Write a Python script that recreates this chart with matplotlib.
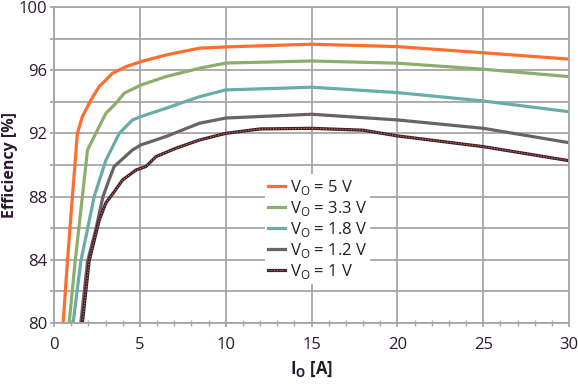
import matplotlib.pyplot as plt
from matplotlib.ticker import MultipleLocator

plt.rcParams['font.family'] = ['Open Sans', 'DejaVu Sans']

i_5v = [0.53, 0.78, 1.07, 1.36, 1.65, 2.14, 2.63, 3.4, 4.19, 5.06, 6.52, 8.47, 10, 15, 20, 25, 30]
eff_5v = [80, 83.9, 88, 92.0, 93.06, 94.1, 94.96, 95.8, 96.22, 96.54, 96.96, 97.39, 97.47, 97.64, 97.49, 97.1, 96.7]

i_33v = [0.88, 1.23, 1.65, 1.95, 2.43, 3.02, 3.6, 4.09, 5.06, 6.52, 8.47, 10, 15, 20, 25, 30]
eff_33v = [80, 83.9, 88, 90.95, 92.0, 93.27, 93.9, 94.54, 95.06, 95.59, 96.12, 96.45, 96.58, 96.44, 96.06, 95.59]

i_18v = [1.11, 1.56, 2.34, 3.02, 3.8, 4.57, 5.06, 6.52, 8.47, 10, 13, 15, 20, 25, 30]
eff_18v = [80, 83.9, 88, 90.3, 92.0, 92.85, 93.06, 93.59, 94.32, 94.75, 94.85, 94.92, 94.58, 94.05, 93.37]

i_12v = [1.56, 1.95, 2.43, 2.85, 3.2, 3.5, 4.57, 5.06, 6.52, 8.47, 10, 15, 20, 25, 30]
eff_12v = [80, 83.9, 85.9, 88, 89.05, 89.9, 90.95, 91.27, 91.8, 92.64, 92.97, 93.21, 92.85, 92.32, 91.41]

i_1v = [1.65, 2.04, 2.63, 3.02, 3.5, 3.99, 4.77, 5.35, 5.94, 7.1, 8.47, 10, 12, 15, 18, 20, 25, 30]
eff_1v = [80, 83.9, 86.5, 87.6, 88.3, 89.05, 89.68, 89.9, 90.53, 91.06, 91.58, 92.0, 92.28, 92.32, 92.2, 91.84, 91.16, 90.27]

labels = ['V$_\\mathregular{O}$ = 5 V', 'V$_\\mathregular{O}$ = 3.3 V', 'V$_\\mathregular{O}$ = 1.8 V',
          'V$_\\mathregular{O}$ = 1.2 V', 'V$_\\mathregular{O}$ = 1 V']

txt = '#2b1a2e'
grid_c = '#a6a6a6'
lw = 2.3
fs = 12

fig = plt.figure(figsize=(5.78, 3.85), dpi=100)
ax = fig.add_axes([0.0935, 0.161, 0.891, 0.821])

ax.plot(i_5v, eff_5v, color='#ff6e2e', lw=lw, label=labels[0])
ax.plot(i_33v, eff_33v, color='#8cae6c', lw=lw, label=labels[1])
ax.plot(i_18v, eff_18v, color='#6aaca7', lw=lw, label=labels[2])
ax.plot(i_12v, eff_12v, color='#6b6169', lw=lw, label=labels[3])
l1, = ax.plot(i_1v, eff_1v, color='#3a2332', lw=lw)
l2, = ax.plot(i_1v, eff_1v, color='#ff6e2e', lw=0.8, ls=(0, (1, 1.5)))

h, l = ax.get_legend_handles_labels()
h.append((l1, l2))
l.append(labels[4])
leg = ax.legend(h, l, loc='upper left', bbox_to_anchor=(0.393, 0.497), frameon=True,
                framealpha=1, edgecolor='none', fancybox=False, fontsize=fs,
                handlelength=1.0, handletextpad=0.3, labelspacing=0.12, borderpad=0.2,
                labelcolor=txt)

ax.set_xlim(0, 30)
ax.set_ylim(80, 100)
ax.xaxis.set_major_locator(MultipleLocator(5))
ax.xaxis.set_minor_locator(MultipleLocator(1))
ax.yaxis.set_major_locator(MultipleLocator(4))
ax.yaxis.set_minor_locator(MultipleLocator(2))
ax.grid(True, which='major', color=grid_c, lw=1.3)
ax.grid(True, which='minor', axis='y', color=grid_c, lw=1.3)
ax.set_axisbelow(True)
ax.tick_params(which='both', colors=grid_c, labelcolor=txt, labelsize=fs)
ax.tick_params(axis='x', which='major', direction='out', length=3, width=1.3, pad=7)
ax.tick_params(axis='x', which='minor', direction='inout', length=4, width=1)
ax.tick_params(axis='y', which='both', direction='out', length=3, width=1.3, pad=2)
for s in ax.spines.values():
    s.set_color(grid_c)
    s.set_linewidth(1.3)

ax.set_xlabel('I$_\\mathregular{O}$ [A]', fontsize=fs, fontweight='bold', color=txt, labelpad=5)
ax.set_ylabel('Efficiency [%]', fontsize=11.5, fontweight='bold', color=txt, labelpad=0)

fig.savefig('out.png', dpi=100)
